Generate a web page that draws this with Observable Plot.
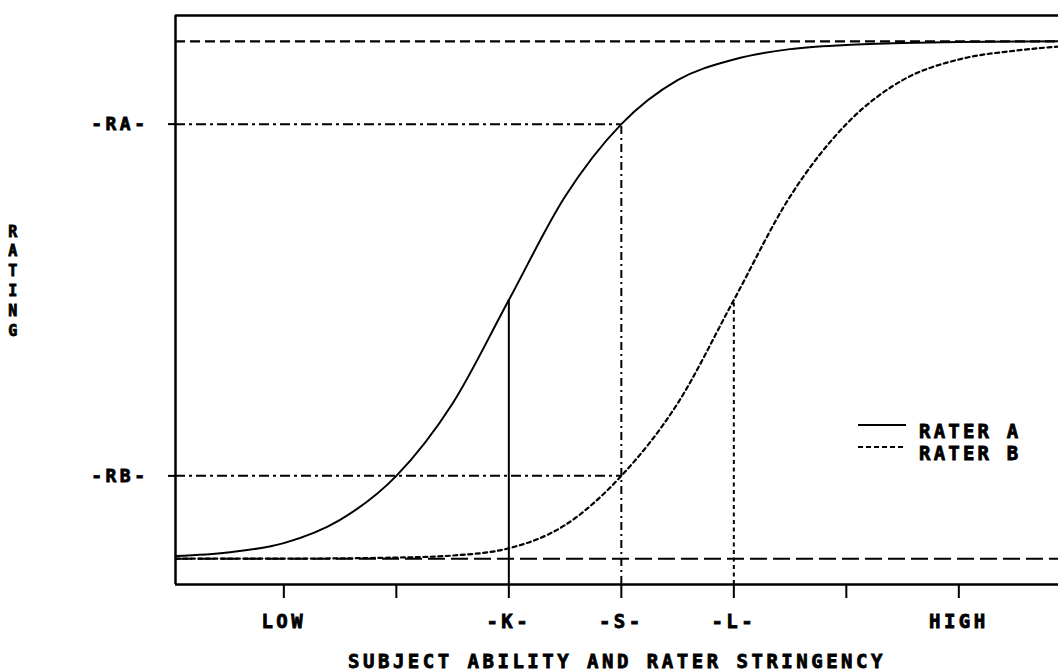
<!DOCTYPE html>
<html><head><meta charset="utf-8">
<script src="https://cdn.jsdelivr.net/npm/d3@7"></script>
<script src="https://cdn.jsdelivr.net/npm/@observablehq/plot@0.6"></script>
<style>
body{margin:0;background:#fff;}
#wrap{position:relative;width:1058px;height:671px;overflow:hidden;}
</style></head><body><div id="wrap"></div>
<script>
// ---- data ----
const xTicks = [1, 2, 3, 4, 5, 6, 7];
const xTickLabels = ["LOW", "", "-K-", "-S-", "-L-", "", "HIGH"];
const yTicks = [0.16, 0.84];
const yTickLabels = ["-RB-", "-RA-"];
const posK = 3, posS = 4, posL = 5;
const levelRA = 0.84, levelRB = 0.16, levelMid = 0.5, levelLow = 0, levelHigh = 1;
const raterAX = [0.04, 0.5, 1, 1.5, 2, 2.5, 3, 3.5, 4, 4.5, 5, 5.5, 6, 6.5, 7, 7.89];
const raterAY = [0.005, 0.012, 0.03, 0.075, 0.16, 0.3, 0.5, 0.7, 0.84, 0.925, 0.965, 0.985, 0.993, 0.997, 0.999, 1.0];
const raterBX = [0.04, 1, 2, 2.5, 3, 3.5, 4, 4.5, 5, 5.5, 6, 6.5, 7, 7.5, 7.89];
const raterBY = [0.0, 0.0, 0.002, 0.006, 0.02, 0.065, 0.16, 0.3, 0.5, 0.7, 0.84, 0.925, 0.965, 0.982, 0.99];
const legendLabels = ["RATER A", "RATER B"];
const xTitle = "SUBJECT ABILITY AND RATER STRINGENCY";
const yTitle = "RATING";
const xDomain = [0.037, 7.886];
const yDomain = [-0.05, 1.05];

// ---- build ----
const lineA = raterAX.map((x, i) => ({x, y: raterAY[i]}));
const lineB = raterBX.map((x, i) => ({x, y: raterBY[i]}));
const font = "'DejaVu Sans Mono', monospace";

const chart = Plot.plot({
  width: 1058, height: 671,
  marginLeft: 175, marginRight: 0, marginTop: 15, marginBottom: 87,
  style: {fontFamily: font, fontWeight: "bold", fontSize: "19px", color: "black", background: "white"},
  x: {domain: xDomain},
  y: {domain: yDomain},
  marks: [
    // asymptotes
    Plot.ruleY([levelHigh], {stroke: "black", strokeWidth: 2.2, strokeDasharray: "10,5"}),
    Plot.ruleY([levelLow], {stroke: "black", strokeWidth: 2, strokeDasharray: "17,6"}),
    // reference lines
    Plot.ruleY([levelRA], {x1: xDomain[0], x2: posS, stroke: "black", strokeWidth: 2, strokeDasharray: "10,4,3,4"}),
    Plot.ruleY([levelRB], {x1: xDomain[0], x2: posS, stroke: "black", strokeWidth: 2, strokeDasharray: "10,4,3,4"}),
    Plot.ruleX([posK], {y1: yDomain[0], y2: levelMid, stroke: "black", strokeWidth: 2}),
    Plot.ruleX([posS], {y1: yDomain[0], y2: levelRA, stroke: "black", strokeWidth: 2, strokeDasharray: "8,4,2,4"}),
    Plot.ruleX([posL], {y1: yDomain[0], y2: levelMid, stroke: "black", strokeWidth: 2, strokeDasharray: "4,3.5"}),
    // curves
    Plot.line(lineA, {x: "x", y: "y", curve: "monotone-x", stroke: "black", strokeWidth: 2}),
    Plot.line(lineB, {x: "x", y: "y", curve: "monotone-x", stroke: "black", strokeWidth: 2.2, strokeDasharray: "4,3.5"}),
    // frame
    Plot.ruleX([xDomain[0]], {stroke: "black", strokeWidth: 2.5}),
    Plot.ruleY([yDomain[0]], {stroke: "black", strokeWidth: 2.5}),
    Plot.ruleY([yDomain[1]], {stroke: "black", strokeWidth: 2.5}),
    // axes
    Plot.axisX({ticks: xTicks, tickFormat: d => xTickLabels[xTicks.indexOf(d)], tickSize: 14, tickPadding: 16,
      label: null, fontSize: 19, strokeWidth: 2, stroke: "black"}),
    Plot.axisY({ticks: yTicks, tickFormat: d => yTickLabels[yTicks.indexOf(d)], tickSize: 7, tickPadding: 20,
      label: null, fontSize: 18, strokeWidth: 2, stroke: "black"}),
    // titles
    Plot.text([xTitle], {frameAnchor: "bottom", dy: 83, fontSize: 19, fill: "black"}),
    Plot.text([yTitle.split("").join("\n")], {frameAnchor: "left", dx: -161, dy: -20, fontSize: 15,
      lineHeight: 1.33, textAnchor: "middle", fill: "black"})
  ]
});
d3.select(chart).selectAll("text")
  .style("letter-spacing", "3.5px")
  .style("stroke", "black").style("stroke-width", "0.8px").style("paint-order", "normal");
const wrap = document.getElementById("wrap");
wrap.appendChild(chart);

// legend overlay
const legendStyles = [null, "5,3"];
const leg = d3.select(wrap).append("svg")
  .attr("width", 1058).attr("height", 671)
  .style("position", "absolute").style("left", "0px").style("top", "0px");
legendLabels.forEach((lab, i) => {
  const y = 425 + i * 22;
  leg.append("line").attr("x1", 858).attr("x2", 906).attr("y1", y).attr("y2", y)
    .attr("stroke", "black").attr("stroke-width", 2)
    .attr("stroke-dasharray", legendStyles[i]);
  leg.append("text").attr("x", 919).attr("y", y + 13).text(lab)
    .attr("font-family", font).attr("font-weight", "bold").attr("font-size", 19)
    .style("letter-spacing", "3.2px").attr("fill", "black")
    .style("stroke", "black").style("stroke-width", "0.8px");
});
</script></body></html>
